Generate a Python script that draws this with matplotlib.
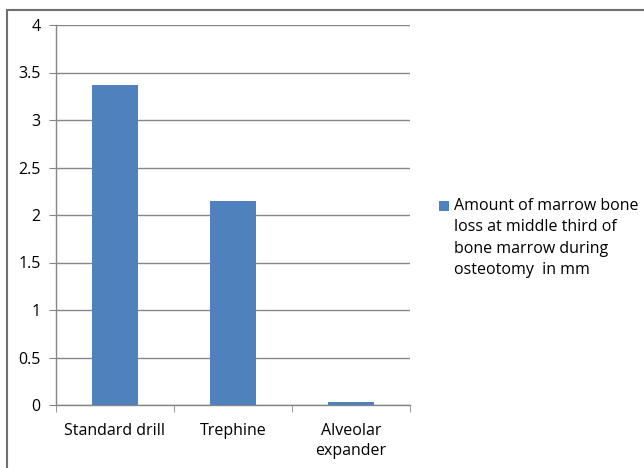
import matplotlib
matplotlib.use("Agg")
import matplotlib.pyplot as plt
from matplotlib.patches import Rectangle

categories = ["Standard drill", "Trephine", "Alveolar\nexpander"]
values = [3.37, 2.15, 0.03]
yticks = [0, 0.5, 1, 1.5, 2, 2.5, 3, 3.5, 4]
ytick_labels = ["0", "0.5", "1", "1.5", "2", "2.5", "3", "3.5", "4"]
legend_label = "Amount of marrow bone\nloss at middle third of\nbone marrow during\nosteotomy  in mm"

plt.rcParams['font.family'] = ['Open Sans', 'DejaVu Sans']
bar_color = "#4F81BD"
grid_color = "#868686"
fs = 11.5

fig = plt.figure(figsize=(6.44, 4.68), dpi=100)
fig.patch.set_facecolor("white")
# outer frame (right/bottom edges cropped off in reference)
fig.patches.append(Rectangle((7/644, -0.05), 1.0, 1 - 10/468 + 0.05, transform=fig.transFigure,
                             fill=False, edgecolor="#6f6f6f", linewidth=1.5))

ax = fig.add_axes([56/644, 63/468, 354/644, 380/468])
x = list(range(len(categories)))
ax.bar(x, values, width=0.39, color=bar_color, zorder=3)
ax.set_xlim(-0.5, 2.5)
ax.set_ylim(0, 4)
ax.set_yticks(yticks)
ax.set_yticklabels(ytick_labels, fontsize=fs)
ax.yaxis.grid(True, color=grid_color, linewidth=1.0, zorder=0)
ax.set_xticks(x)
ax.set_xticklabels(categories, fontsize=fs, linespacing=1.3)
ax.tick_params(axis='x', length=0, pad=13)
ax.tick_params(axis='y', length=5, color=grid_color, pad=6)
ax.set_xticks([-0.5, 0.5, 1.5, 2.5], minor=True)
ax.tick_params(axis='x', which='minor', length=5, color=grid_color)
for s in ['top', 'right']:
    ax.spines[s].set_visible(False)
for s in ['left', 'bottom']:
    ax.spines[s].set_color(grid_color)
    ax.spines[s].set_linewidth(1.0)

# legend
fig.patches.append(Rectangle((439/644, (468-211)/468), 10/644, 10/468, transform=fig.transFigure,
                             facecolor=bar_color, edgecolor="none"))
fig.text(454/644, (468-198)/468, legend_label, fontsize=fs, va='top', ha='left', linespacing=1.45)

fig.savefig("out.png", dpi=100)
